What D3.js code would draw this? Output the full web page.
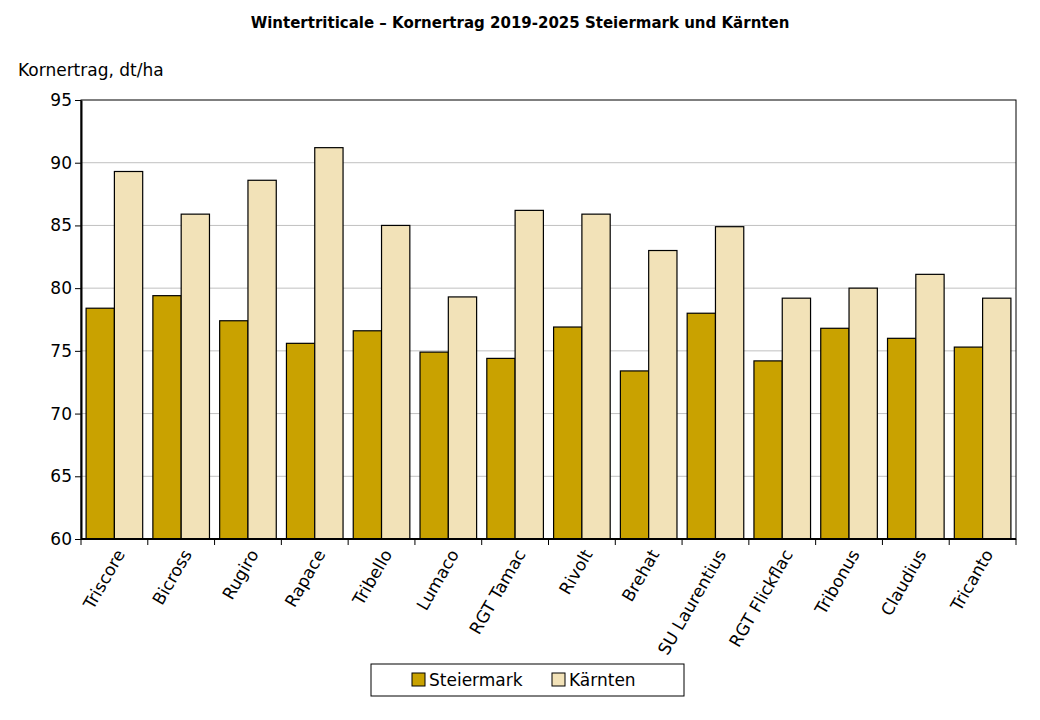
<!DOCTYPE html>
<meta charset="utf-8">
<style>
    body { margin: 0; background: #fff; }
    svg { font-family: "DejaVu Sans", Verdana, sans-serif; }
    .grid line { stroke: #c0c0c0; }
</style>
<body>
<script src="https://cdn.jsdelivr.net/npm/d3@7"></script>
<script>
    const sorten = ["Triscore", "Bicross", "Rugiro", "Rapace", "Tribello", "Lumaco", "RGT Tamac",
        "Rivolt", "Brehat", "SU Laurentius", "RGT Flickflac", "Tribonus", "Claudius", "Tricanto"];
    const steiermark = [78.4, 79.4, 77.4, 75.6, 76.6, 74.9, 74.4, 76.9, 73.4, 78.0, 74.2, 76.8, 76.0, 75.3];
    const kaernten = [89.3, 85.9, 88.6, 91.2, 85.0, 79.3, 86.2, 85.9, 83.0, 84.9, 79.2, 80.0, 81.1, 79.2];
    const seriesNames = ["Steiermark", "Kärnten"];
    const yTicks = [60, 65, 70, 75, 80, 85, 90, 95];

    const colors = ["#c9a200", "#f2e2b8"];
    const plotLeft = 81, plotRight = 1016, plotTop = 100, plotBottom = 539;

    const svg = d3.select("body").append("svg")
        .attr("width", 1040).attr("height", 720);

    const x = d3.scaleBand().domain(sorten).range([plotLeft, plotRight]);
    const x1 = d3.scaleBand().domain(seriesNames).range([0, x.bandwidth()])
        .paddingInner(0).paddingOuter(0.18);
    const y = d3.scaleLinear().domain([60, 95]).range([plotBottom, plotTop]);

    // gridlines
    svg.append("g").attr("class", "grid")
        .selectAll("line").data(yTicks.slice(1, -1)).enter().append("line")
        .attr("x1", plotLeft).attr("x2", plotRight)
        .attr("y1", d => y(d)).attr("y2", d => y(d));

    // plot frame
    svg.append("rect").attr("x", plotLeft).attr("y", plotTop)
        .attr("width", plotRight - plotLeft).attr("height", plotBottom - plotTop)
        .attr("fill", "none").attr("stroke", "#000").attr("stroke-width", 1);

    // bars
    const groups = svg.append("g").selectAll("g").data(sorten).enter().append("g")
        .attr("transform", d => "translate(" + x(d) + ",0)");
    groups.selectAll("rect")
        .data((d, i) => [steiermark[i], kaernten[i]].map((v, j) => ({ s: seriesNames[j], v: v, j: j })))
        .enter().append("rect")
        .attr("x", d => x1(d.s))
        .attr("width", x1.bandwidth())
        .attr("y", d => y(d.v))
        .attr("height", d => plotBottom - y(d.v))
        .attr("fill", d => colors[d.j])
        .attr("stroke", "#000").attr("stroke-width", 1.2);

    // y axis
    svg.append("g")
        .attr("transform", "translate(" + plotLeft + ",0)")
        .call(d3.axisLeft(y).tickValues(yTicks).tickSize(6).tickSizeOuter(0))
        .call(g => g.select(".domain").attr("stroke-width", 2))
        .call(g => g.selectAll("text").attr("font-size", 17).attr("fill", "#000")
            .attr("font-family", "DejaVu Sans"));

    // x axis with ticks at group boundaries
    const xa = svg.append("g").attr("transform", "translate(0," + plotBottom + ")");
    xa.append("line").attr("x1", plotLeft).attr("x2", plotRight).attr("stroke", "#000").attr("stroke-width", 2);
    xa.selectAll("line.t").data(sorten.map(s => x(s)).concat([plotRight])).enter().append("line")
        .attr("class", "t").attr("x1", d => d).attr("x2", d => d).attr("y1", 0).attr("y2", 6)
        .attr("stroke", "#000");
    xa.selectAll("text").data(sorten).enter().append("text")
        .attr("transform", d => "translate(" + (x(d) + x.bandwidth() / 2 + 6) + ",12) rotate(-60)")
        .attr("text-anchor", "end").attr("font-size", 17).attr("dy", "0.35em")
        .text(d => d);

    // title and axis label
    svg.append("text").attr("x", 520).attr("y", 28).attr("text-anchor", "middle")
        .attr("font-size", 15).attr("font-weight", "bold")
        .text("Wintertriticale – Kornertrag 2019-2025 Steiermark und Kärnten");
    svg.append("text").attr("x", 18).attr("y", 76).attr("font-size", 17)
        .text("Kornertrag, dt/ha");

    // legend
    const lg = svg.append("g");
    lg.append("rect").attr("x", 371).attr("y", 664).attr("width", 313).attr("height", 32)
        .attr("fill", "#fff").attr("stroke", "#000");
    const li = lg.selectAll("g").data(seriesNames).enter().append("g")
        .attr("transform", (d, i) => "translate(" + (412 + i * 140) + ",673)");
    li.append("rect").attr("width", 13).attr("height", 13)
        .attr("fill", (d, i) => colors[i]).attr("stroke", "#000");
    li.append("text").attr("x", 17).attr("y", 7).attr("dy", "0.35em").attr("font-size", 17)
        .text(d => d);
</script>
</body>
</html>
